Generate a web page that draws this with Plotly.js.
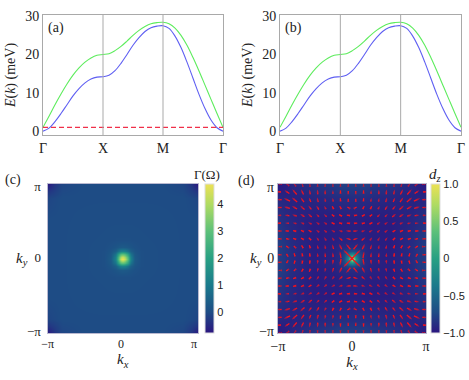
<!DOCTYPE html>
<html>
<head>
<meta charset="utf-8">
<script src="https://cdn.plot.ly/plotly-3.0.1.min.js"></script>
<style>html,body{margin:0;padding:0;background:#fff}</style>
</head>
<body>
<div id="plot" style="width:469px;height:380px"></div>
<script>
// band path: 0 = Gamma, 1 = X, 2 = M, 3 = Gamma
const path = [0,.1,.2,.3,.4,.5,.6,.7,.8,.9,1,1.1,1.2,1.3,1.4,1.5,1.6,1.7,1.8,1.9,2,2.1,2.2,2.3,2.4,2.5,2.6,2.7,2.8,2.9,3];
const upperBand = [1,3.9,6.9,9.7,12.3,14.6,16.5,18,19.1,19.8,20,20.2,21,22.1,23.5,25,26.3,27.3,28,28.3,28.4,28,26.9,25,22.4,19.2,15.7,12,8.3,4.6,1];
const lowerBand = [0,.8,2.5,4.6,6.9,9.2,11.1,12.6,13.6,14.1,14.2,14.6,15.8,17.7,20,22.4,24.4,26,27,27.4,27.5,26.8,24.8,21.8,18,13.8,9.6,5.9,2.9,.9,0];
const gapLevel = [1,1];
const pathTicks = [0,1,2,3];
const pathLabels = ['Γ','X','M','Γ'];

// heat maps: upper left quarter of the zone, the other quarters mirror it
const gridK = [-3.14,-2.85,-2.55,-1.6,-.8,-.5,-.32,-.18,-.08,0];
const gammaQuarter = [
  [-.75,-.35,-.1,0,0,0,0,0,0,0],
  [-.35,-.2,-.05,0,0,0,0,0,0,0],
  [-.1,-.05,0,0,0,0,0,0,0,0],
  [0,0,0,.01,.02,.02,.02,.02,.02,.02],
  [0,0,0,.02,.03,.04,.05,.05,.05,.05],
  [0,0,0,.02,.04,.1,.18,.25,.28,.3],
  [0,0,0,.02,.05,.18,.42,.85,1.15,1.2],
  [0,0,0,.02,.05,.25,.85,2.1,2.8,3],
  [0,0,0,.02,.05,.28,1.15,2.8,3.9,4.3],
  [0,0,0,.02,.05,.3,1.2,3,4.3,4.74]
];
const dzQuarter = [
  [-.98,-.95,-.9,-.84,-.8,-.78,-.78,-.78,-.78,-.78],
  [-.95,-.95,-.92,-.88,-.85,-.83,-.83,-.83,-.83,-.83],
  [-.9,-.92,-.93,-.91,-.89,-.88,-.88,-.88,-.88,-.88],
  [-.84,-.88,-.91,-.96,-.96,-.96,-.95,-.95,-.95,-.95],
  [-.8,-.85,-.89,-.96,-.95,-.94,-.93,-.93,-.93,-.93],
  [-.78,-.83,-.88,-.96,-.94,-.9,-.89,-.88,-.88,-.88],
  [-.78,-.83,-.88,-.95,-.93,-.89,-.82,-.75,-.72,-.7],
  [-.78,-.83,-.88,-.95,-.93,-.88,-.75,-.45,-.28,-.2],
  [-.78,-.83,-.88,-.95,-.93,-.88,-.72,-.28,.2,.55],
  [-.78,-.83,-.88,-.95,-.93,-.88,-.7,-.2,.55,1]
];
const kxArrows = [-3.09,-2.76,-2.44,-2.11,-1.79,-1.46,-1.14,-.81,-.49,-.16];
const kyArrows = [3.14,2.81,2.48,2.15,1.82,1.49,1.16,.83,.5,.16];
// tilt of each arrow from the kx axis in degrees, rows from ky = pi down
const arrowTilt = [
  [0,40,60,75,85,90,90,90,90,90],
  [0,35,50,65,80,85,90,90,90,90],
  [0,25,40,55,65,75,80,80,85,90],
  [0,15,30,40,50,60,65,65,60,30],
  [0,10,20,30,40,45,45,40,30,10],
  [0,5,15,20,30,35,35,25,15,5],
  [0,5,10,20,30,35,40,30,15,5],
  [0,10,20,30,45,55,60,55,40,20],
  [0,30,45,60,70,75,80,75,65,50],
  [0,60,75,80,85,85,85,85,80,45]
];
const arrowSize = [
  [1,1,1,1,1,1,1,1,1,1],
  [3,6,7,6,5,5,5,4,3,2],
  [5,7,7,6,5,5,4,4,3,2],
  [5,6,6,6,5,5,4,3,3,2],
  [4,5,5,5,5,4,4,3,3,3],
  [3,4,4,4,4,4,4,3,3,3],
  [2,3,3,3,3,4,4,4,4,5],
  [2,2,3,3,3,4,4,4,5,5],
  [1,2,2,3,3,4,4,5,6,7],
  [2,2,3,3,3,4,5,5,7,14]
];

const font = 'Liberation Serif';
const sans = 'Liberation Sans';
const W = 469, H = 380;
const fx = (px) => px / W;
const fy = (px) => 1 - px / H;
const frame = '#a9a9a9';
const ink = '#222';
const colors = [[0,'#2b1580'],[.14,'#1e4c85'],[.32,'#1a7a8c'],[.5,'#28a083'],[.68,'#5cc07a'],[.86,'#aedb62'],[1,'#ece154']];

function mirrorRows(quarter) {
  const rows = quarter.map(row => row.concat(row.slice(0, -1).reverse()));
  return rows.concat(rows.slice(0, -1).reverse());
}

const fullK = gridK.concat(gridK.slice(0, -1).reverse().map(k => -k));
const arrowScale = 1 / 24; // pixels of arrow to k units

const ax = [], ay = [], sizes = [];
for (let r = 0; r < kyArrows.length; r++) {
  for (let c = 0; c < kxArrows.length; c++) {
    const t = arrowTilt[r][c] * Math.PI / 180;
    const half = arrowSize[r][c] * arrowScale / 2;
    for (const sx of [-1, 1]) {
      for (const sy of [-1, 1]) {
        const x = sx * -kxArrows[c], y = sy * kyArrows[r];
        const dx = sx * Math.cos(t) * half, dy = sy * Math.sin(t) * half;
        ax.push(x - dx, x + dx, null);
        ay.push(y - dy, y + dy, null);
        sizes.push(0, 3.5, 0);
      }
    }
  }
}

const bandAxis = {
  tickmode: 'array', tickvals: pathTicks, ticktext: pathLabels, range: [0, 3],
  showgrid: false, zeroline: false, showline: true, mirror: true, linecolor: frame, linewidth: 1,
  ticks: '', tickfont: {family: font, size: 14, color: ink}
};
const energyAxis = {
  range: [-1, 30.3], tickvals: [0, 10, 20, 30],
  showgrid: false, zeroline: false, showline: true, mirror: true, linecolor: frame, linewidth: 1,
  ticks: '', tickfont: {family: font, size: 14, color: ink},
  title: {text: '<i>E</i>(<i>k</i>) (meV)', font: {family: font, size: 14, color: ink}, standoff: 6}
};
const mapAxis = {
  range: [-Math.PI, Math.PI], showgrid: false, zeroline: false, showline: true, mirror: true,
  linecolor: '#b9b9d0', linewidth: 1, ticks: '', tickmode: 'array', ticktext: ['−π', '0', 'π'],
  tickfont: {family: font, size: 12, color: ink}
};

const data = [
  {x: path, y: upperBand, mode: 'lines', line: {color: '#5dec5d', width: 1.1, shape: 'spline'}, xaxis: 'x', yaxis: 'y'},
  {x: path, y: lowerBand, mode: 'lines', line: {color: '#5f5ff2', width: 1.1, shape: 'spline'}, xaxis: 'x', yaxis: 'y'},
  {x: [0, 3], y: gapLevel, mode: 'lines', line: {color: '#f0304a', width: 1.3, dash: '5px,3px'}, xaxis: 'x', yaxis: 'y'},
  {x: path, y: upperBand, mode: 'lines', line: {color: '#5dec5d', width: 1.1, shape: 'spline'}, xaxis: 'x2', yaxis: 'y2'},
  {x: path, y: lowerBand, mode: 'lines', line: {color: '#5f5ff2', width: 1.1, shape: 'spline'}, xaxis: 'x2', yaxis: 'y2'},
  {
    type: 'heatmap', x: fullK, y: fullK, z: mirrorRows(gammaQuarter), zsmooth: 'best', colorscale: colors,
    zmin: -.78, zmax: 4.74, xaxis: 'x3', yaxis: 'y3',
    colorbar: {
      x: fx(205), xanchor: 'left', y: fy(333), yanchor: 'bottom', len: 149 / H, thickness: 9, xpad: 0, ypad: 0,
      tickvals: [0, 1, 2, 3, 4], ticks: '', outlinecolor: '#ddd', outlinewidth: 1,
      tickfont: {family: sans, size: 11, color: ink}
    }
  },
  {
    type: 'heatmap', x: fullK, y: fullK, z: mirrorRows(dzQuarter), zsmooth: 'best', colorscale: colors,
    zmin: -1, zmax: 1, xaxis: 'x4', yaxis: 'y4',
    colorbar: {
      x: fx(431), xanchor: 'left', y: fy(333), yanchor: 'bottom', len: 149 / H, thickness: 9, xpad: 0, ypad: 0,
      tickvals: [-1, -.5, 0, .5, 1], ticktext: ['−1.0', '−0.5', '0', '0.5', '1.0'], ticks: '',
      outlinecolor: '#ddd', outlinewidth: 1, tickfont: {family: sans, size: 11, color: ink}
    }
  },
  {
    x: ax, y: ay, mode: 'lines+markers', line: {color: '#f5121c', width: 1.3},
    marker: {symbol: 'arrow', size: sizes, angleref: 'previous', color: '#f5121c', line: {width: 0}},
    xaxis: 'x4', yaxis: 'y4'
  }
];

function label(text, x, y, size, family) {
  return {text: text, xref: 'paper', yref: 'paper', x: fx(x), y: fy(y), xanchor: 'center', yanchor: 'middle', showarrow: false,
    font: {family: family || font, size: size || 14, color: ink}};
}

function vline(x, axis) {
  return {type: 'line', xref: axis, yref: 'paper', x0: x, x1: x, y0: fy(135), y1: fy(15), line: {color: frame, width: 1}};
}

const layout = {
  width: W, height: H, autosize: false, showlegend: false,
  margin: {l: 0, r: 0, t: 0, b: 0}, paper_bgcolor: '#fff', plot_bgcolor: '#fff',
  xaxis: {...bandAxis, domain: [fx(43), fx(223)], anchor: 'y'},
  yaxis: {...energyAxis, domain: [fy(135), fy(15)], anchor: 'x'},
  xaxis2: {...bandAxis, domain: [fx(280), fx(461)], anchor: 'y2'},
  yaxis2: {...energyAxis, domain: [fy(135), fy(15)], anchor: 'x2'},
  xaxis3: {...mapAxis, tickvals: [-3.14, -.07, 2.98], domain: [fx(47.5), fx(198)], anchor: 'y3',
    title: {text: '<i>k<sub>x</sub></i>', font: {family: font, size: 15, color: ink}, standoff: 2}},
  yaxis3: {...mapAxis, tickvals: [-3.06, .03, 3.02], domain: [fy(333), fy(184)], anchor: 'x3',
    tickfont: {family: font, size: 13, color: ink}, ticklabelstandoff: 3},
  xaxis4: {...mapAxis, tickvals: [-3.14, 0, 3.14], domain: [fx(278), fx(426)], anchor: 'y4',
    tickfont: {family: font, size: 14, color: ink},
    title: {text: '<i>k<sub>x</sub></i>', font: {family: font, size: 15, color: ink}, standoff: 2}},
  yaxis4: {...mapAxis, tickvals: [-3.06, .03, 3.02], domain: [fy(333), fy(184)], anchor: 'x4',
    tickfont: {family: font, size: 14, color: ink}},
  shapes: [vline(1, 'x'), vline(2, 'x'), vline(1, 'x2'), vline(2, 'x2')],
  annotations: [
    label('(a)', 56, 28),
    label('(b)', 293, 28),
    label('(c)', 13, 180),
    label('(d)', 247, 181),
    label('<i>k<sub>y</sub></i>', 22, 259, 15),
    label('<i>k<sub>y</sub></i>', 256, 259, 15),
    label('Γ(Ω)', 207, 174, 13),
    label('<i>d<sub>z</sub></i>', 435, 175, 15)
  ]
};

Plotly.newPlot('plot', data, layout, {displayModeBar: false, staticPlot: true});
</script>
</body>
</html>
